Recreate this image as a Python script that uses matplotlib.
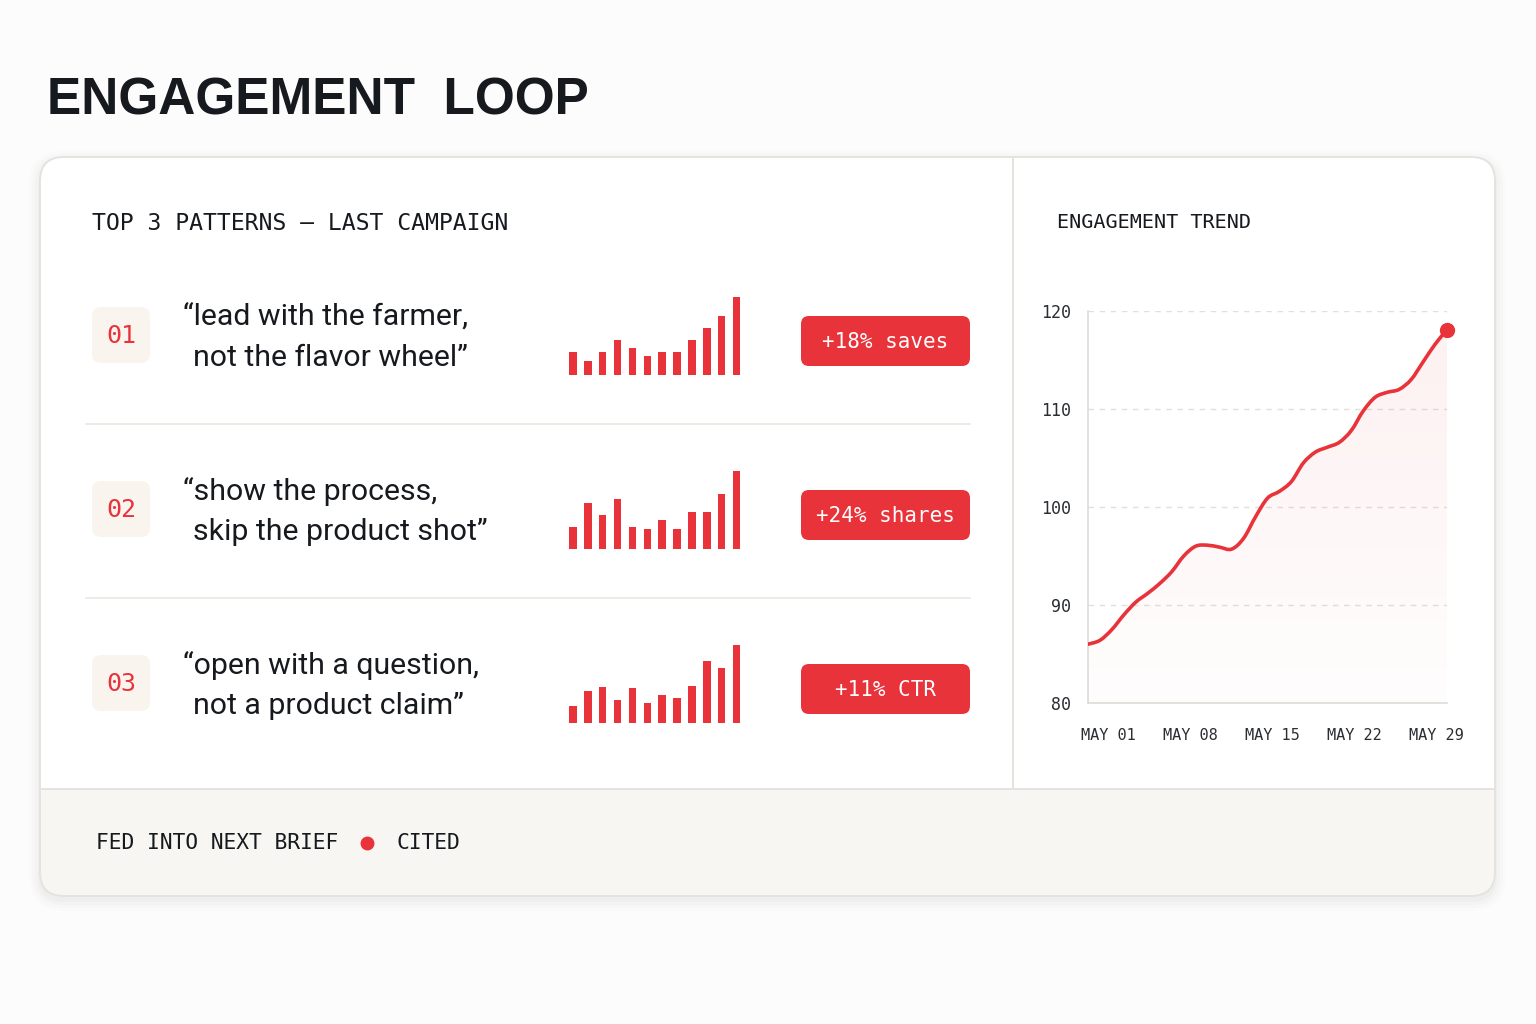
import numpy as np
import matplotlib
matplotlib.use("Agg")
import matplotlib.pyplot as plt
from matplotlib.patches import FancyBboxPatch, Rectangle, PathPatch
from matplotlib.path import Path

# ---- data ----
rank_labels = ["01", "02", "03"]
quotes = [
    ("\u201clead with the farmer,", "not the flavor wheel\u201d"),
    ("\u201cshow the process,", "skip the product shot\u201d"),
    ("\u201copen with a question,", "not a product claim\u201d"),
]
lift_labels = ["+18% saves", "+24% shares", "+11% CTR"]
spark_1 = [30, 18, 30, 45, 34, 24, 30, 30, 45, 60, 76, 100]
spark_2 = [28, 59, 43, 64, 28, 26, 37, 26, 48, 48, 71, 100]
spark_3 = [22, 41, 46, 29, 45, 26, 36, 32, 48, 79, 71, 100]
sparks = [spark_1, spark_2, spark_3]

trend = [86.0, 86.4, 87.5, 89.0, 90.3, 91.2, 92.2, 93.4, 95.0, 96.0,
         96.1, 95.9, 95.7, 96.8, 99.0, 100.9, 101.6, 102.6, 104.5, 105.6,
         106.1, 106.6, 107.8, 109.8, 111.2, 111.7, 112.0, 113.0, 114.8, 116.6,
         118.1]
date_labels = ["MAY 01", "MAY 08", "MAY 15", "MAY 22", "MAY 29"]
y_ticks = [80, 90, 100, 110, 120]

RED = "#e8333a"
INK = "#16191e"
LINE = "#e6e3de"
MONO = "DejaVu Sans Mono"
SANS = "Roboto"

W, H = 1536, 1024
fig = plt.figure(figsize=(W / 100, H / 100), dpi=100)
fig.patch.set_facecolor("#fcfcfc")

# pixel-space canvas
ax = fig.add_axes([0, 0, 1, 1])
ax.set_xlim(0, W)
ax.set_ylim(H, 0)
ax.axis("off")


def px_axes(x0, y0, x1, y1):
    return fig.add_axes([x0 / W, 1 - y1 / H, (x1 - x0) / W, (y1 - y0) / H])


def rbox(x0, y0, x1, y1, r, **kw):
    p = FancyBboxPatch((x0, y0), x1 - x0, y1 - y0,
                       boxstyle="round,pad=0,rounding_size=%d" % r, **kw)
    ax.add_patch(p)
    return p


def smooth_path(x, y, close_to=None):
    # catmull-rom through the points, drawn as cubic bezier segments
    pts = np.column_stack([x, y]).astype(float)
    verts = [pts[0]]
    codes = [Path.MOVETO]
    n = len(pts)
    for k in range(n - 1):
        p0 = pts[max(k - 1, 0)]
        p1 = pts[k]
        p2 = pts[k + 1]
        p3 = pts[min(k + 2, n - 1)]
        verts += [p1 + (p2 - p0) / 6, p2 - (p3 - p1) / 6, p2]
        codes += [Path.CURVE4] * 3
    if close_to is not None:
        verts += [(pts[-1][0], close_to), (pts[0][0], close_to), pts[0]]
        codes += [Path.LINETO, Path.LINETO, Path.CLOSEPOLY]
    return Path(verts, codes)


# title
ax.text(47, 101, "ENGAGEMENT  LOOP", fontsize=37, fontweight="bold",
        family="Liberation Sans", color=INK, va="center", ha="left")

# card shadow, body, footer
for i, a in enumerate([0.018, 0.014, 0.010, 0.006]):
    g = 2 + i * 3
    rbox(40 - g, 157 - g + 4, 1495 + g, 896 + g + 4, 24 + g,
         facecolor="#000000", edgecolor="none", alpha=a)
rbox(40, 157, 1495, 896, 24, facecolor="#f8f6f2", edgecolor="none")
rbox(40, 157, 1495, 830, 24, facecolor="white", edgecolor="none")
ax.add_patch(Rectangle((40.5, 789), 1454, 45, facecolor="#f8f6f2", edgecolor="none"))
rbox(40, 157, 1495, 896, 24, facecolor="none", edgecolor=LINE, linewidth=1.4)
ax.plot([40.5, 1494.5], [789, 789], color=LINE, lw=1.4)
ax.plot([1013, 1013], [158, 789], color=LINE, lw=1.4)

# left panel header
ax.text(92, 223, "TOP 3 PATTERNS \u2014 LAST CAMPAIGN", family=MONO, fontsize=16.7,
        color=INK, va="center", ha="left")

row_step = 174
for i in range(3):
    dy = i * row_step
    # rank chip
    rbox(92, 307 + dy, 150, 363 + dy, 9, facecolor="#faf4ef", edgecolor="none")
    ax.text(121, 336 + dy, rank_labels[i], family=MONO, fontsize=18, color=RED,
            va="center", ha="center")
    # quote
    ax.text(183, 317 + dy, quotes[i][0], family=SANS, fontsize=21.8, color=INK,
            va="center", ha="left")
    ax.text(193, 358 + dy, quotes[i][1], family=SANS, fontsize=21.8, color=INK,
            va="center", ha="left")
    # sparkline bars
    bx = px_axes(565.5, 297 + dy, 744, 375 + dy)
    bx.bar(range(len(sparks[i])), sparks[i], width=0.5, color=RED)
    bx.set_xlim(-0.5, len(sparks[i]) - 0.5)
    bx.set_ylim(0, 100)
    bx.axis("off")
    # lift badge
    rbox(801, 316 + dy, 970, 366 + dy, 8, facecolor=RED, edgecolor="none")
    ax.text(885.5, 342 + dy, lift_labels[i], family=MONO, fontsize=15, color="white",
            va="center", ha="center")
    if i < 2:
        ax.plot([86, 970], [424 + dy, 424 + dy], color="#ece9e4", lw=1.3)

# right panel
ax.text(1057, 223, "ENGAGEMENT TREND", family=MONO, fontsize=14.5, color=INK,
        va="center", ha="left")

lx = px_axes(1088, 311, 1447, 703)
xs = np.arange(len(trend))
lx.set_xlim(0, len(trend) - 1)
lx.set_ylim(80, 120)
for v in y_ticks[1:]:
    lx.axhline(v, color="#e2e0dc", lw=1.0, ls=(0, (4, 4)), zorder=0)

# soft gradient under the line
area = PathPatch(smooth_path(xs, trend, close_to=80), facecolor="none",
                 edgecolor="none", transform=lx.transData)
lx.add_patch(area)
grad = np.zeros((100, 2, 4))
grad[..., 0], grad[..., 1], grad[..., 2] = 0.91, 0.2, 0.23
grad[..., 3] = np.linspace(0.075, 0.01, 100)[:, None]
im = lx.imshow(grad, extent=[0, xs[-1], 80, 120], aspect="auto", zorder=1)
im.set_clip_path(area)
lx.set_xlim(0, len(trend) - 1)
lx.set_ylim(80, 120)

lx.add_patch(PathPatch(smooth_path(xs, trend), facecolor="none", edgecolor=RED,
                       lw=2.6, zorder=3, capstyle="round"))
lx.plot(xs[-1], trend[-1], "o", color=RED, ms=10, zorder=4, clip_on=False)

for s in ["top", "right"]:
    lx.spines[s].set_visible(False)
for s in ["left", "bottom"]:
    lx.spines[s].set_color("#dedbd6")
    lx.spines[s].set_linewidth(1.2)
lx.set_facecolor("none")
lx.set_yticks(y_ticks)
lx.set_yticklabels([str(v) for v in y_ticks], family=MONO, fontsize=12, color="#2a2d32")
lx.set_xticks([1.7, 8.55, 15.4, 22.25, 29.1])
lx.set_xticklabels(date_labels, family=MONO, fontsize=11, color="#2a2d32")
lx.tick_params(length=0)
lx.tick_params(axis="y", pad=12)
lx.tick_params(axis="x", pad=18)

# footer
ax.text(96, 843, "FED INTO NEXT BRIEF", family=MONO, fontsize=15.3, color=INK,
        va="center", ha="left")
ax.plot(367, 843, "o", color=RED, ms=9)
ax.text(396, 843, "CITED", family=MONO, fontsize=15.3, color=INK,
        va="center", ha="left")

fig.savefig("out.png", dpi=100, facecolor=fig.get_facecolor())
